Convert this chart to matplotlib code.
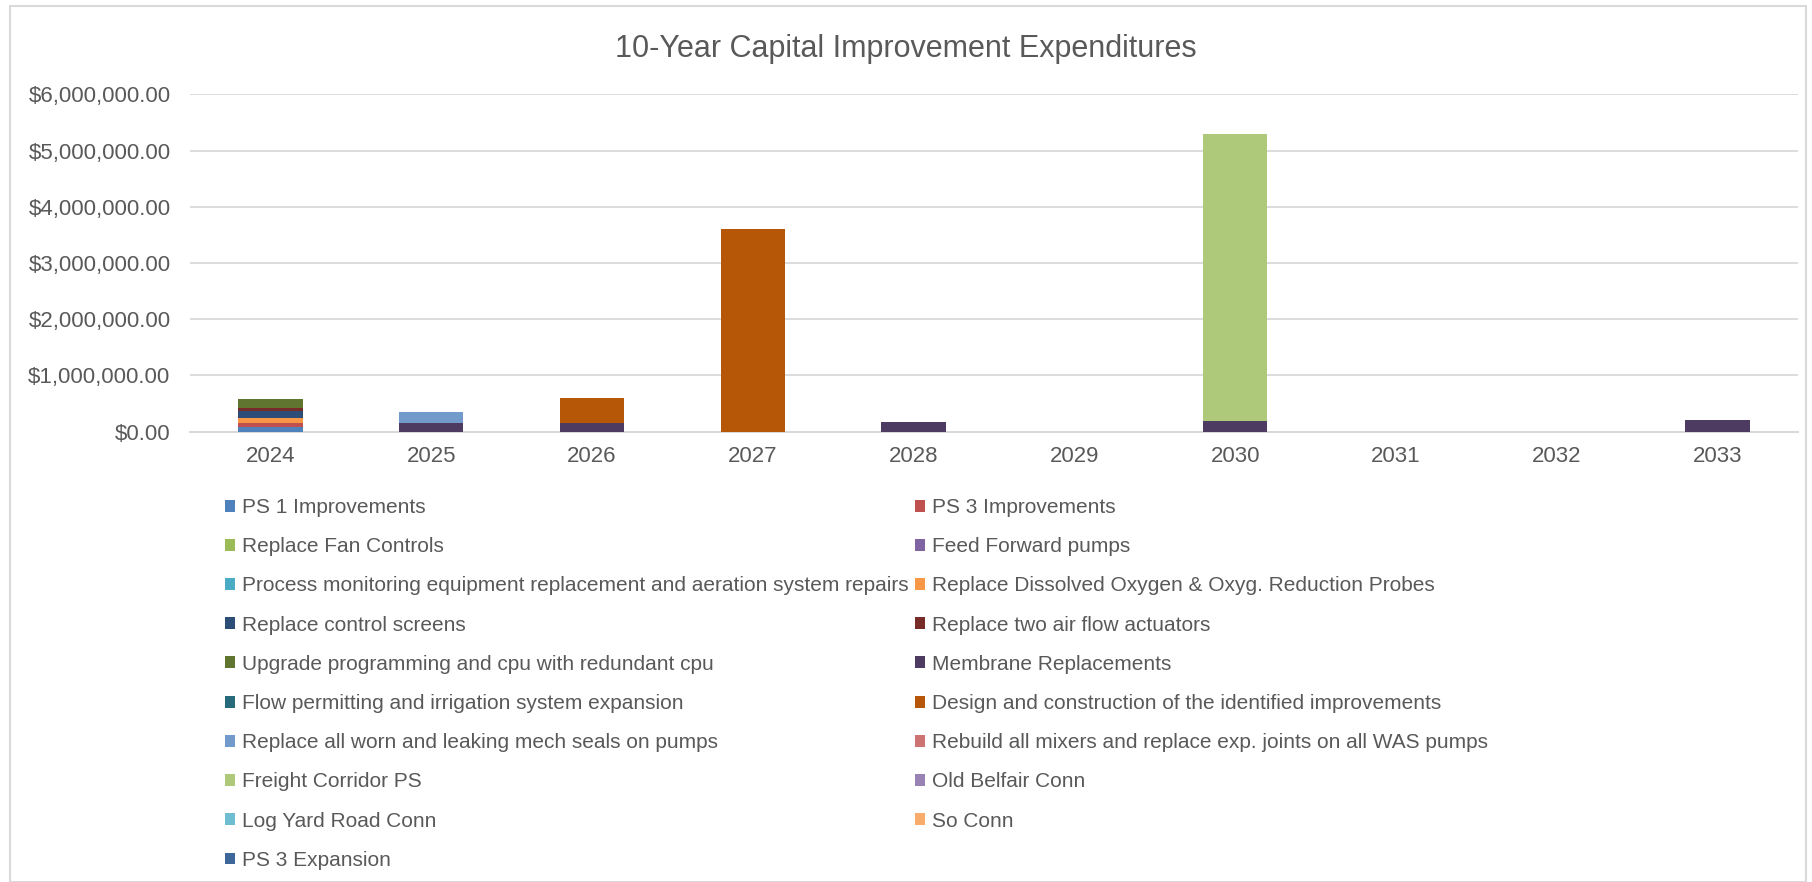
import matplotlib
matplotlib.use("Agg")
import matplotlib.pyplot as plt
from matplotlib.ticker import FuncFormatter
from matplotlib.patches import Rectangle, Patch
import numpy as np

plt.rcParams['font.family'] = ['Liberation Sans', 'DejaVu Sans']

years = ["2024", "2025", "2026", "2027", "2028", "2029", "2030", "2031", "2032", "2033"]

ps1_improvements = [80000, 0, 0, 0, 0, 0, 0, 0, 0, 0]
ps3_improvements = [70000, 0, 0, 0, 0, 0, 0, 0, 0, 0]
replace_fan_controls = [0, 0, 0, 0, 0, 0, 0, 0, 0, 0]
feed_forward_pumps = [0, 0, 0, 0, 0, 0, 0, 0, 0, 0]
process_monitoring = [0, 0, 0, 0, 0, 0, 0, 0, 0, 0]
replace_do_probes = [85000, 0, 0, 0, 0, 0, 0, 0, 0, 0]
replace_control_screens = [135000, 0, 0, 0, 0, 0, 0, 0, 0, 0]
replace_air_flow_actuators = [55000, 0, 0, 0, 0, 0, 0, 0, 0, 0]
upgrade_programming = [160000, 0, 0, 0, 0, 0, 0, 0, 0, 0]
membrane_replacements = [0, 160000, 150000, 0, 170000, 0, 195000, 0, 0, 210000]
flow_permitting = [0, 0, 0, 0, 0, 0, 0, 0, 0, 0]
design_construction = [0, 0, 450000, 3600000, 0, 0, 0, 0, 0, 0]
replace_mech_seals = [0, 195000, 0, 0, 0, 0, 0, 0, 0, 0]
rebuild_mixers = [0, 0, 0, 0, 0, 0, 0, 0, 0, 0]
freight_corridor_ps = [0, 0, 0, 0, 0, 0, 5100000, 0, 0, 0]
old_belfair_conn = [0, 0, 0, 0, 0, 0, 0, 0, 0, 0]
log_yard_road_conn = [0, 0, 0, 0, 0, 0, 0, 0, 0, 0]
so_conn = [0, 0, 0, 0, 0, 0, 0, 0, 0, 0]
ps3_expansion = [0, 0, 0, 0, 0, 0, 0, 0, 0, 0]

series_names = [
    "PS 1 Improvements",
    "PS 3 Improvements",
    "Replace Fan Controls",
    "Feed Forward pumps",
    "Process monitoring equipment replacement and aeration system repairs",
    "Replace Dissolved Oxygen & Oxyg. Reduction Probes",
    "Replace control screens",
    "Replace two air flow actuators",
    "Upgrade programming and cpu with redundant cpu",
    "Membrane Replacements",
    "Flow permitting and irrigation system expansion",
    "Design and construction of the identified improvements",
    "Replace all worn and leaking mech seals on pumps",
    "Rebuild all mixers and replace exp. joints on all WAS pumps",
    "Freight Corridor PS",
    "Old Belfair Conn",
    "Log Yard Road Conn",
    "So Conn",
    "PS 3 Expansion",
]
series_values = [
    ps1_improvements, ps3_improvements, replace_fan_controls, feed_forward_pumps,
    process_monitoring, replace_do_probes, replace_control_screens,
    replace_air_flow_actuators, upgrade_programming, membrane_replacements,
    flow_permitting, design_construction, replace_mech_seals, rebuild_mixers,
    freight_corridor_ps, old_belfair_conn, log_yard_road_conn, so_conn, ps3_expansion,
]
colors = [
    "#4F81BD", "#C0504D", "#9BBB59", "#8064A2", "#4BACC6", "#F79646",
    "#2C4D75", "#772C2A", "#5F7530", "#4D3B62", "#276A7C", "#B65708",
    "#729ACA", "#CD7371", "#AFC97A", "#9983B5", "#6FBDD1", "#F9AB6B",
    "#3C6798",
]

W, H = 1812, 882
fig = plt.figure(figsize=(W / 100, H / 100), dpi=100)
fig.patch.set_facecolor("white")

# chart area border
fig.patches.append(Rectangle((10 / W, 0), (1806 - 10) / W, 1 - 6 / H,
                             transform=fig.transFigure, fill=False,
                             edgecolor="#d9d9d9", linewidth=1.5))

ax = fig.add_axes([190 / W, 1 - 431.7 / H, (1798 - 190) / W, (431.7 - 94.3) / H])

x = np.arange(len(years))
bottom = np.zeros(len(years))
handles = []
for name, vals, c in zip(series_names, series_values, colors):
    v = np.array(vals, dtype=float)
    ax.bar(x, v, 0.4, bottom=bottom, color=c, edgecolor="none", linewidth=0, zorder=3)
    bottom += v
    handles.append(Patch(facecolor=c, edgecolor="none", label=name))

ax.set_xlim(-0.5, len(years) - 0.5)
ax.set_ylim(0, 6000000)
ax.set_yticks(np.arange(0, 6000001, 1000000))
ax.yaxis.set_major_formatter(FuncFormatter(lambda v, p: "${:,.2f}".format(v)))
ax.set_xticks(x)
ax.set_xticklabels(years)
ax.grid(axis="y", color="#d9d9d9", linewidth=1.3, zorder=0)
ax.set_axisbelow(True)
for s in ["top", "right", "left"]:
    ax.spines[s].set_visible(False)
ax.spines["bottom"].set_color("#d9d9d9")
ax.spines["bottom"].set_linewidth(1.5)
ax.tick_params(axis="y", length=0, pad=14, labelsize=16, labelcolor="#595959")
ax.tick_params(axis="x", length=0, pad=10, labelsize=16, labelcolor="#595959")

fig.text(906 / W, 1 - 49 / H, "10-Year Capital Improvement Expenditures",
         ha="center", va="center", fontsize=22, color="#595959")

col1 = handles[0::2]
col2 = handles[1::2]
common = dict(loc="upper left", frameon=False, borderpad=0, borderaxespad=0,
              handlelength=0.5, handleheight=0.5, handletextpad=0.3,
              labelspacing=0.97, fontsize=15, labelcolor="#595959")
leg1 = fig.legend(handles=col1, bbox_to_anchor=(225 / W, 1 - 498 / H), **common)
leg2 = fig.legend(handles=col2, bbox_to_anchor=(915 / W, 1 - 498 / H), **common)

fig.savefig("out.png", dpi=100, facecolor="white")
